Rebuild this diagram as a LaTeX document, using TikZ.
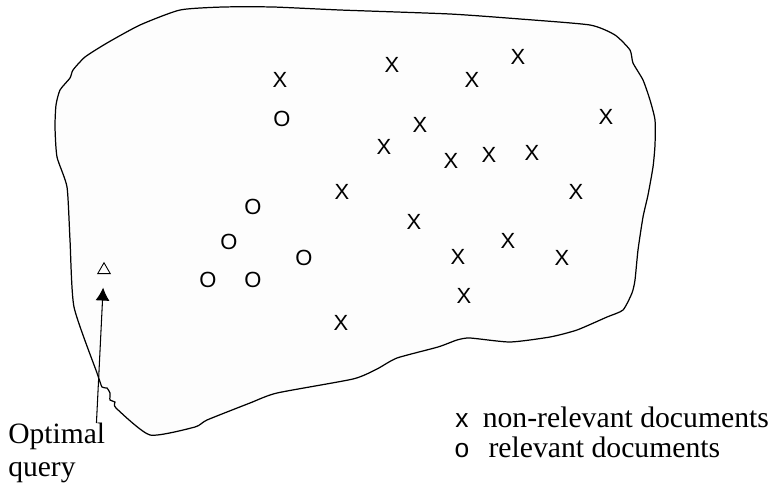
\documentclass[tikz,border=0pt]{standalone}
\usepackage{fontspec}
\setmainfont{Liberation Serif}
\newfontfamily\marksf{Liberation Sans}
\usepackage{tikz}
\usetikzlibrary{positioning,shapes.geometric,arrows.meta}
\definecolor{blobfill}{RGB}{253,253,253}
\tikzset{
  xmark/.style={inner sep=0pt,font=\marksf\fontsize{12.5}{14}\selectfont},
  legmark/.style={inner sep=0pt,font=\marksf\fontsize{15}{17}\selectfont},
  legtext/.style={inner sep=0pt,font=\fontsize{16.9}{19}\selectfont},
  optlabel/.style={inner sep=0pt,align=left,font=\fontsize{16.8}{18.4}\selectfont},
  qmark/.style={draw,regular polygon,regular polygon sides=3,inner sep=0pt,minimum size=0.29cm,line width=0.5pt},
  arr/.style={line width=0.6pt,-{Latex[length=0.26cm,width=0.28cm]},shorten >=0.27cm}
}
\begin{document}
\begin{tikzpicture}[x=0.02cm,y=-0.02cm]
\useasboundingbox (0,0) rectangle (774,487);
\draw [line width=0.7pt,fill=blobfill] plot [smooth cycle,tension=0.35] coordinates {
 (60,90) (70,78) (73,70) (85,57) (107,43) (140,25) (180,10) (223,7) (273,7) (340,10)
 (450,14) (520,19) (590,25) (615,35) (630,50) (633,63) (643,80) (650,100) (655,120)
 (655,145) (653,167) (648,195) (643,217) (638,250) (635,280) (632,293) (623,310)
 (607,317) (577,330) (550,337) (510,342) (470,338) (457,340) (438,347) (397,358)
 (377,369) (353,379) (277,393) (250,403) (207,420) (195,427) (150,435) (116,408)
 (115,402) (110,400) (110,393) (107,388) (102,387) (97,373) (74,307) (70,240)
 (67,187) (57,157) (55,127) (56,105)};
\foreach \px/\py [count=\i] in {280/80,392/65,472/80,518/57,606/117,420/125,384/147,
  451/161,489/155,532/153,342/192,576/192,414/222,508/241,458/257,562/258,464/296,341/323}
  \node [xmark] (nr\i) at (\px,\py) {X};
\foreach \px/\py [count=\i] in {282/119,253/207,229/242,304/258,208/280,253/280}
  \node [xmark] (rel\i) at (\px,\py) {O};
\node [qmark] (q) at (104,270) {};
\node [optlabel,anchor=north west] (opt) at (8,423) {Optimal\\query};
\draw [arr] ([xshift=-0.18cm]opt.north east) -- (q);
\node [legmark] (lx) at (462,421) {x};
\node [legmark,below=0.3cm of lx] (lo) {o};
\node [legtext,base right=0.27cm of lx] (ltx) {non-relevant documents};
\node [legtext,base right=0.37cm of lo] (lto) {relevant documents};
\end{tikzpicture}
\end{document}
